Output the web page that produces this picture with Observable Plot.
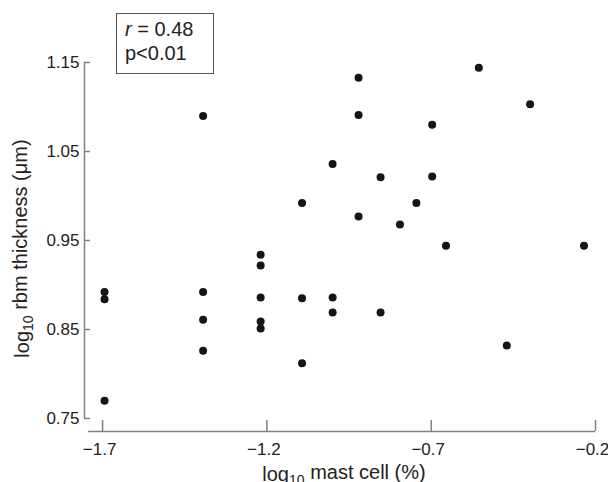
<!DOCTYPE html>
<html><head><meta charset="utf-8">
<script src="https://cdn.jsdelivr.net/npm/d3@7"></script>
<script src="https://cdn.jsdelivr.net/npm/@observablehq/plot@0.6"></script>
<style>
body{margin:0;background:#fff;}
#wrap{position:relative;width:608px;height:482px;font-family:"Liberation Sans",Arial,sans-serif;}
#stat{position:absolute;left:116px;top:13px;width:98px;height:61px;border:1px solid #555;box-sizing:border-box;font-size:20px;line-height:24px;padding:3px 0 0 8px;color:#222;background:#fff;white-space:nowrap;}
</style></head><body><div id="wrap"><div id="stat"><i>r</i> = 0.48<br>p&lt;0.01</div></div>
<script>
const mastCell = [-1.694,-1.694,-1.694,-1.394,-1.394,-1.394,-1.394,-1.219,-1.219,-1.219,-1.219,-1.219,-1.093,-1.093,-1.093,-1.000,-1.000,-1.000,-0.921,-0.921,-0.921,-0.854,-0.854,-0.795,-0.745,-0.697,-0.697,-0.655,-0.555,-0.470,-0.399,-0.235];
const rbmThickness = [0.892,0.884,0.770,1.090,0.892,0.861,0.826,0.934,0.922,0.886,0.859,0.851,0.992,0.885,0.812,1.036,0.886,0.869,1.133,1.091,0.977,1.021,0.869,0.968,0.992,1.080,1.022,0.944,1.144,0.832,1.103,0.944];
const xTicks = [-1.7,-1.2,-0.7,-0.2];
const yTicks = [0.75,0.85,0.95,1.05,1.15];
const xDomain = [-1.755,-0.2];
const yDomain = [0.75,1.15];
const xLabel = "log10 mast cell (%)";
const yLabel = "log10 rbm thickness (μm)";

const points = mastCell.map((x,i)=>({x, y: rbmThickness[i]}));
const font = '"Liberation Sans",Arial,sans-serif';
const axisGray = "#808080";
const chart = Plot.plot({
  width:608, height:482, marginLeft:84, marginRight:13, marginTop:62, marginBottom:64,
  style:{fontFamily:font, fontSize:"17px", color:"#222", background:"white", overflow:"visible"},
  x:{domain:xDomain}, y:{domain:yDomain},
  marks:[
    Plot.ruleX([xDomain[0]], {stroke:axisGray, strokeWidth:1.5}),
    Plot.ruleY([yDomain[0]], {dy:13, insetLeft:4, stroke:axisGray, strokeWidth:1.5}),
    Plot.axisY(yTicks, {anchor:"left", tickSize:6, dx:6, tickPadding:5, tickFormat:d=>d.toFixed(2), label:null, stroke:axisGray, strokeWidth:1.5, fontSize:17}),
    Plot.axisX(xTicks, {anchor:"bottom", tickSize:11, dy:2, tickFormat:()=>"", label:null, stroke:axisGray, strokeWidth:1.5}),
    Plot.axisX(xTicks, {anchor:"bottom", tickSize:0, dy:2, dx:-3, tickPadding:22, tickFormat:d=>d.toFixed(1).replace("-","\u2212"), label:null, stroke:"none", fontSize:17}),
    Plot.dot(points, {x:"x", y:"y", r:4, fill:"#151515"}),
    Plot.text([yLabel], {frameAnchor:"left", textAnchor:"middle", lineAnchor:"middle", rotate:-90, dx:-62, dy:8, fontSize:20, className:"ylab"}),
    Plot.text([xLabel], {frameAnchor:"bottom", textAnchor:"middle", lineAnchor:"middle", dx:4, dy:56, fontSize:20, className:"xlab"})
  ]
});
document.getElementById("wrap").prepend(chart);
function subscript(sel){
  d3.select(chart).selectAll(sel + " text").each(function(){
    const t = d3.select(this);
    const s = t.text();
    const rest = s.slice(5);
    t.text("");
    t.append("tspan").text("log");
    t.append("tspan").attr("dy","0.3em").attr("font-size","70%").text("10");
    t.append("tspan").attr("dy","-0.3em").text(rest);
  });
}
subscript(".ylab");
subscript(".xlab");
</script></body></html>
